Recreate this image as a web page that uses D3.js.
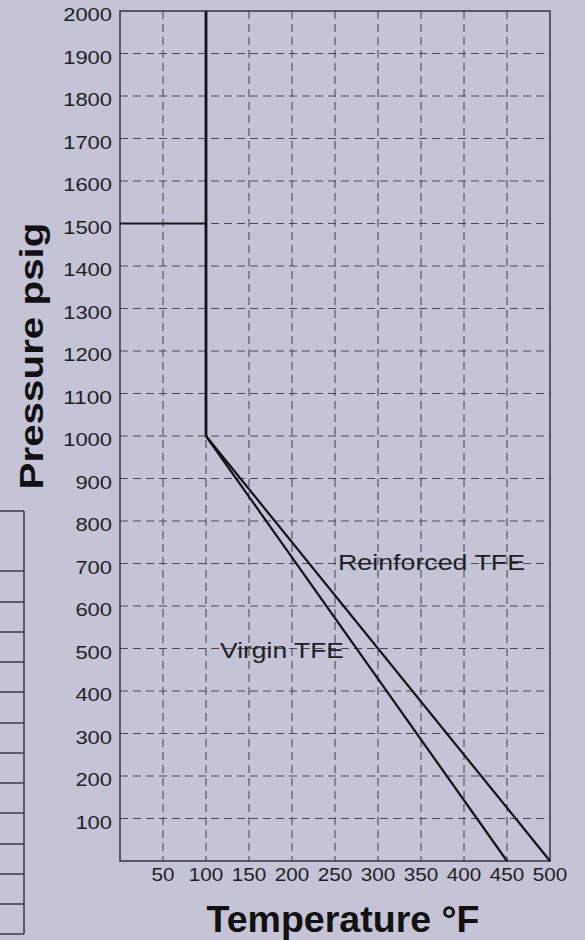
<!DOCTYPE html>
<html>
<head>
<meta charset="utf-8">
<script src="https://cdn.jsdelivr.net/npm/d3@7"></script>
<style>
  body { margin: 0; background: #c4c4d6; }
  svg { display: block; font-family: "Liberation Sans", Arial, sans-serif; }
</style>
</head>
<body>
<div id="chart"></div>
<script>
// data
var xTicks = [50, 100, 150, 200, 250, 300, 350, 400, 450, 500];
var yTicks = [100, 200, 300, 400, 500, 600, 700, 800, 900, 1000, 1100, 1200, 1300, 1400, 1500, 1600, 1700, 1800, 1900, 2000];
var limitLine = [[100, 2000], [100, 1000]];
var limit1500 = [[0, 1500], [100, 1500]];
var virginTFE = [[100, 1000], [450, 0]];
var reinforcedTFE = [[100, 1000], [500, 0]];
// leftover rows of a neighbouring table at the left edge (pixel rows)
var tableRows = [511, 571, 602, 632, 662, 692, 723, 753, 783, 813, 844, 874, 904, 934];

var W = 585, H = 940;
var margin = {top: 11, right: 35, bottom: 79, left: 120};

var svg = d3.select("#chart").append("svg")
    .attr("width", W).attr("height", H);

svg.append("rect").attr("width", W).attr("height", H).attr("fill", "#c4c4d6");

var x = d3.scaleLinear().domain([0, 500]).range([margin.left, W - margin.right]);
var y = d3.scaleLinear().domain([0, 2000]).range([H - margin.bottom, margin.top]);

// neighbouring table fragment
var tbl = svg.append("g").attr("stroke", "#3a3a44").attr("stroke-width", 1.5);
tbl.selectAll("line.row").data(tableRows).enter().append("line")
    .attr("x1", 0).attr("x2", 24)
    .attr("y1", function(d) { return d; }).attr("y2", function(d) { return d; });
tbl.append("line").attr("x1", 24).attr("x2", 24)
    .attr("y1", tableRows[0]).attr("y2", tableRows[tableRows.length - 1]);

// grid
var grid = svg.append("g").attr("stroke", "#4a4a55").attr("stroke-width", 1.1)
    .attr("stroke-dasharray", "8,5");
grid.selectAll("line.h").data(yTicks.filter(function(d) { return d < 2000; })).enter().append("line")
    .attr("x1", x(0)).attr("x2", x(500))
    .attr("y1", function(d) { return y(d); }).attr("y2", function(d) { return y(d); });
grid.selectAll("line.v").data(xTicks.filter(function(d) { return d < 500; })).enter().append("line")
    .attr("y1", y(2000)).attr("y2", y(0))
    .attr("x1", function(d) { return x(d); }).attr("x2", function(d) { return x(d); });

// frame
svg.append("rect")
    .attr("x", x(0)).attr("y", y(2000))
    .attr("width", x(500) - x(0)).attr("height", y(0) - y(2000))
    .attr("fill", "none").attr("stroke", "#33333d").attr("stroke-width", 1.5);

// tick labels
svg.append("g").selectAll("text").data(yTicks).enter().append("text")
    .attr("x", 112).attr("y", function(d) { return y(d) + 10; })
    .attr("text-anchor", "end")
    .attr("font-size", 19).attr("fill", "#1e1e24")
    .attr("textLength", function(d) { return String(d).length * 12.2; })
    .attr("lengthAdjust", "spacingAndGlyphs")
    .text(function(d) { return d; });

svg.append("g").selectAll("text").data(xTicks).enter().append("text")
    .attr("x", function(d) { return x(d); }).attr("y", 881)
    .attr("text-anchor", "middle")
    .attr("font-size", 18.5).attr("fill", "#1e1e24")
    .attr("textLength", function(d) { return String(d).length * 11.5; })
    .attr("lengthAdjust", "spacingAndGlyphs")
    .text(function(d) { return d; });

// lines
var line = d3.line().x(function(d) { return x(d[0]); }).y(function(d) { return y(d[1]); });

svg.append("path").datum(limit1500).attr("d", line)
    .attr("fill", "none").attr("stroke", "#1a1a22").attr("stroke-width", 2);
svg.append("path").datum(limitLine).attr("d", line)
    .attr("fill", "none").attr("stroke", "#111118").attr("stroke-width", 2.8);
svg.append("path").datum(virginTFE).attr("d", line)
    .attr("fill", "none").attr("stroke", "#111118").attr("stroke-width", 2.2);
svg.append("path").datum(reinforcedTFE).attr("d", line)
    .attr("fill", "none").attr("stroke", "#111118").attr("stroke-width", 2.2);

// series labels
svg.append("text").attr("x", 338).attr("y", 570)
    .attr("font-size", 22).attr("fill", "#1e1e24")
    .attr("textLength", 187).attr("lengthAdjust", "spacingAndGlyphs")
    .text("Reinforced TFE");
svg.append("text").attr("x", 220).attr("y", 658)
    .attr("font-size", 22).attr("fill", "#1e1e24")
    .attr("textLength", 124).attr("lengthAdjust", "spacingAndGlyphs")
    .text("Virgin TFE");

// axis titles
svg.append("text")
    .attr("transform", "translate(43,356) rotate(-90)")
    .attr("text-anchor", "middle")
    .attr("font-size", 34).attr("font-weight", "bold").attr("fill", "#111")
    .attr("textLength", 267).attr("lengthAdjust", "spacingAndGlyphs")
    .text("Pressure psig");

svg.append("text")
    .attr("x", 343).attr("y", 932)
    .attr("text-anchor", "middle")
    .attr("font-size", 37).attr("font-weight", "bold").attr("fill", "#111")
    .attr("textLength", 273).attr("lengthAdjust", "spacingAndGlyphs")
    .text("Temperature °F");
</script>
</body>
</html>
